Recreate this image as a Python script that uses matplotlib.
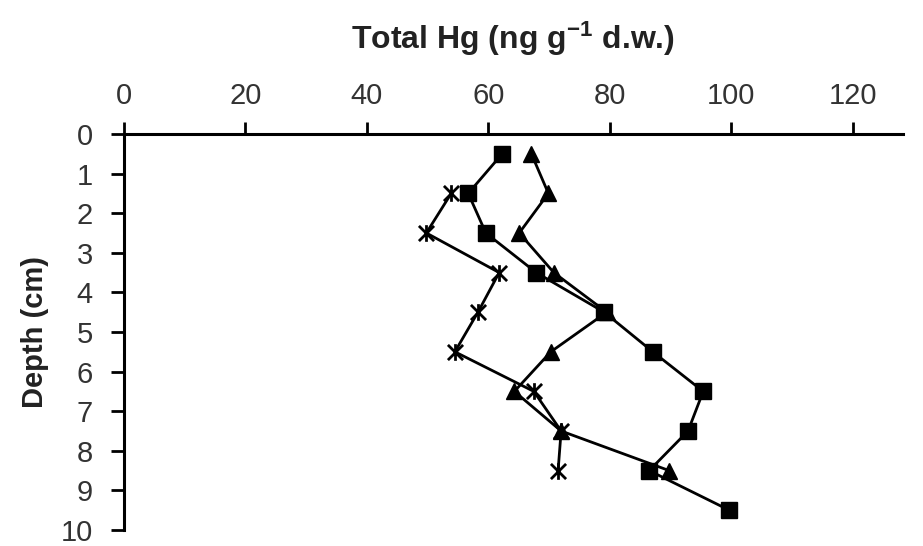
import matplotlib
matplotlib.use("Agg")
import matplotlib.pyplot as plt
from matplotlib.path import Path

plt.rcParams['font.family'] = ['Liberation Sans', 'DejaVu Sans']
plt.rcParams['mathtext.default'] = 'regular'

# depth (cm) and total Hg (ng/g d.w.) for each core
depth_sq = [0.5, 1.5, 2.5, 3.5, 4.5, 5.5, 6.5, 7.5, 8.5, 9.5]
hg_sq = [62.3, 56.7, 59.6, 67.9, 79.1, 87.1, 95.4, 92.9, 86.5, 99.7]

depth_tri = [0.5, 1.5, 2.5, 3.5, 4.5, 5.5, 6.5, 7.5, 8.5]
hg_tri = [67.1, 69.9, 65.1, 70.8, 79.5, 70.3, 64.3, 72.0, 89.8]

depth_x = [1.5, 2.5, 3.5, 4.5, 5.5, 6.5, 7.5, 8.5]
hg_x = [53.9, 49.8, 61.8, 58.3, 54.5, 67.5, 72.0, 71.5]

xticks = [0, 20, 40, 60, 80, 100, 120]
yticks = list(range(0, 11))

# excel style star: x with a vertical bar
star = Path([(-1, -1), (1, 1), (-1, 1), (1, -1), (0, -1.1), (0, 1.1)],
            [Path.MOVETO, Path.LINETO, Path.MOVETO, Path.LINETO, Path.MOVETO, Path.LINETO])

fig = plt.figure(figsize=(9.23, 5.46), dpi=100)
ax = fig.add_axes([0.1343, 0.0293, 0.844, 0.7253])

ax.plot(hg_x, depth_x, color='black', lw=2.0, marker=star, ms=12, mew=2.0,
        mfc='none', mec='black', zorder=3)
ax.plot(hg_tri, depth_tri, color='black', lw=2.0, marker='^', ms=12, zorder=4)
ax.plot(hg_sq, depth_sq, color='black', lw=2.0, marker='s', ms=11, zorder=5)

ax.set_xlim(0, 128.3)
ax.set_ylim(10, 0)
ax.set_xticks(xticks)
ax.set_yticks(yticks)

ax.xaxis.tick_top()
ax.xaxis.set_label_position('top')
for s in ['right', 'bottom']:
    ax.spines[s].set_visible(False)
for s in ['left', 'top']:
    ax.spines[s].set_linewidth(2.2)

ax.tick_params(axis='x', direction='out', length=9, width=2, pad=8,
               labelsize=21, labelcolor='#333333')
ax.tick_params(axis='y', direction='out', length=9.5, width=2, pad=13,
               labelsize=21, labelcolor='#333333')

ax.set_xlabel('Total Hg (ng g$^{-1}$ d.w.)', fontsize=23, fontweight='bold',
              color='#222222', labelpad=24)
ax.set_ylabel('Depth (cm)', fontsize=21, fontweight='bold', color='#222222',
              labelpad=8)

fig.savefig('out.png', dpi=100)
